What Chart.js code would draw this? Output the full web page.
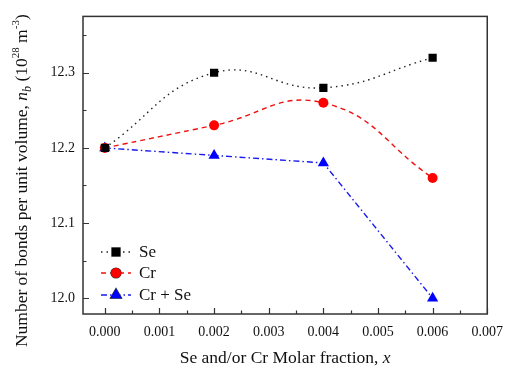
<!DOCTYPE html>
<html><head><meta charset="utf-8">
<script src="https://cdn.jsdelivr.net/npm/chart.js@4/dist/chart.umd.min.js"></script>
<style>html,body{margin:0;padding:0;background:#fff}#wrap{width:513px;height:368px}</style>
</head><body><div id="wrap"><canvas id="c" width="513" height="368"></canvas></div>
<script>
const xValues = [0.000, 0.002, 0.004, 0.006];
const seValues = [12.20, 12.30, 12.28, 12.32];
const crValues = [12.20, 12.23, 12.26, 12.16];
const crSeValues = [12.20, 12.19, 12.18, 12.00];
const seriesNames = ['Se', 'Cr', 'Cr + Se'];
const xTickValues = [0, 0.001, 0.002, 0.003, 0.004, 0.005, 0.006, 0.007];
const yTickValues = [12.0, 12.1, 12.2, 12.3];

const FONT = '"Liberation Serif", "Times New Roman", serif';
const toPts = v => xValues.map((x, i) => ({x, y: v[i]}));

const frame = {
  id: 'frame',
  afterDatasetsDraw(chart) {
    const {ctx, chartArea: a, scales: {x, y}} = chart;
    ctx.save();
    ctx.strokeStyle = '#333'; ctx.lineWidth = 1.5;
    ctx.strokeRect(a.left, a.top, a.right - a.left, a.bottom - a.top);
    ctx.lineWidth = 1.2;
    ctx.beginPath();
    for (let v = 0; v <= 0.0070001; v += 0.0005) {
      const px = Math.round(x.getPixelForValue(v)) + 0.5;
      const major = Math.abs(v / 0.001 - Math.round(v / 0.001)) < 1e-6;
      ctx.moveTo(px, a.bottom); ctx.lineTo(px, a.bottom - (major ? 6 : 3.5));
    }
    for (let v = 12.0; v <= 12.3501; v += 0.05) {
      const py = Math.round(y.getPixelForValue(v)) + 0.5;
      const major = Math.abs(v / 0.1 - Math.round(v / 0.1)) < 1e-6;
      ctx.moveTo(a.left, py); ctx.lineTo(a.left + (major ? 6 : 3.5), py);
    }
    ctx.stroke();
    // Legend
    const ds = chart.data.datasets;
    const ly = [252, 273, 295];
    ds.forEach((d, i) => {
      ctx.save();
      ctx.strokeStyle = d.borderColor; ctx.lineWidth = d.borderWidth;
      ctx.setLineDash(d.borderDash || []);
      ctx.beginPath(); ctx.moveTo(101, ly[i]); ctx.lineTo(131, ly[i]); ctx.stroke();
      ctx.restore();
      Chart.helpers.drawPoint(ctx, {pointStyle: d.pointStyle, radius: d.pointRadius, borderWidth: 1}, 116, ly[i]);
      ctx.fillStyle = d.pointBackgroundColor;
      ctx.fill();
      ctx.fillStyle = '#111'; ctx.font = '17px ' + FONT;
      ctx.textBaseline = 'middle'; ctx.textAlign = 'left';
      ctx.fillText(seriesNames[i], 139, ly[i] + 1);
    });
    ctx.restore();
  },
  afterDraw(chart) {
    const {ctx, chartArea: a} = chart;
    ctx.save();
    ctx.fillStyle = '#111'; ctx.textBaseline = 'alphabetic';
    // x title
    const parts = [['Se and/or Cr Molar fraction, ', '17.5px ' + FONT], ['x', 'italic 17.5px ' + FONT]];
    let w = 0; parts.forEach(p => { ctx.font = p[1]; w += ctx.measureText(p[0]).width; });
    let cx = (a.left + a.right) / 2 - w / 2;
    parts.forEach(p => { ctx.font = p[1]; ctx.fillText(p[0], cx, 363); cx += ctx.measureText(p[0]).width; });
    // y title
    ctx.translate(27, (a.top + a.bottom) / 2 + 15.5);
    ctx.rotate(-Math.PI / 2);
    const yp = [
      ['Number of bonds per unit volume, ', '17.5px ' + FONT, 0],
      ['n', 'italic 17.5px ' + FONT, 0],
      ['b', 'italic 12px ' + FONT, 4],
      [' (10', '17.5px ' + FONT, 0],
      ['28', '11px ' + FONT, -8],
      [' m', '17.5px ' + FONT, 0],
      ['-3', '11px ' + FONT, -8],
      [')', '17.5px ' + FONT, 0]
    ];
    w = 0; yp.forEach(p => { ctx.font = p[1]; w += ctx.measureText(p[0]).width; });
    cx = -w / 2;
    yp.forEach(p => { ctx.font = p[1]; ctx.fillText(p[0], cx, p[2]); cx += ctx.measureText(p[0]).width; });
    ctx.restore();
  }
};

new Chart(document.getElementById('c'), {
  type: 'line',
  data: {
    datasets: [
      {label: seriesNames[0], data: toPts(seValues), borderColor: '#222', borderWidth: 1.4, borderDash: [1.5, 4],
       pointStyle: 'rect', pointRadius: 5.8, pointBackgroundColor: '#000', pointBorderColor: '#000', pointBorderWidth: 0, tension: 0.45},
      {label: seriesNames[1], data: toPts(crValues), borderColor: '#ee1111', borderWidth: 1.4, borderDash: [5, 4],
       pointStyle: 'circle', pointRadius: 5, pointBackgroundColor: '#ff0000', pointBorderColor: '#ff0000', pointBorderWidth: 0, tension: 0.45},
      {label: seriesNames[2], data: toPts(crSeValues), borderColor: '#1a1aee', borderWidth: 1.4, borderDash: [6, 3, 1.5, 3],
       pointStyle: 'triangle', pointRadius: 6.5, pointBackgroundColor: '#0000ff', pointBorderColor: '#0000ff', pointBorderWidth: 0, tension: 0}
    ]
  },
  options: {
    responsive: false, animation: false, devicePixelRatio: 1,
    layout: {padding: {top: 15, right: 20, left: 0, bottom: 0}},
    plugins: {legend: {display: false}, tooltip: {enabled: false}},
    scales: {
      x: {type: 'linear', min: -0.0004, max: 0.007,
          afterBuildTicks: s => { s.ticks = xTickValues.map(v => ({value: v})); },
          afterFit: s => { s.height = 54; },
          grid: {display: false, drawTicks: false}, border: {display: false},
          ticks: {padding: 10, color: '#111', font: {family: FONT, size: 14}, maxRotation: 0,
                  callback: v => v.toFixed(3)}},
      y: {min: 11.979, max: 12.375,
          afterBuildTicks: s => { s.ticks = yTickValues.map(v => ({value: v})); },
          afterFit: s => { s.width = 83; },
          grid: {display: false, drawTicks: false}, border: {display: false},
          ticks: {padding: 8, color: '#111', font: {family: FONT, size: 14},
                  callback: v => v.toFixed(1)}}
    }
  },
  plugins: [frame]
});
</script></body></html>
